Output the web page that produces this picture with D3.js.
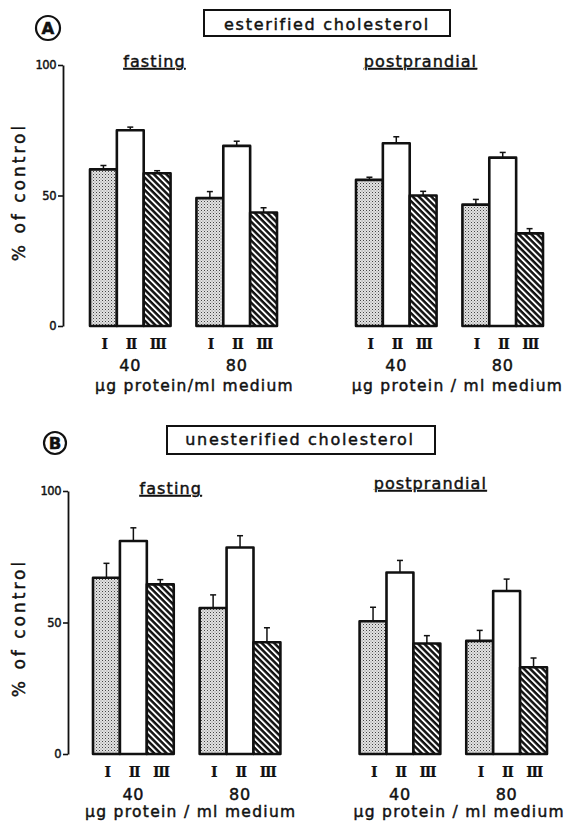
<!DOCTYPE html>
<html>
<head>
<meta charset="utf-8">
<script src="https://cdn.jsdelivr.net/npm/d3@7/dist/d3.min.js"></script>
<style>
  html, body { margin: 0; padding: 0; background: #fff; }
  svg { display: block; }
  text { font-family: "DejaVu Sans", sans-serif; fill: #111; stroke: #111; stroke-width: 0.45px; }
</style>
</head>
<body>
<script>
// Cell types, concentrations and conditions
const types = ["I", "II", "III"];
const concentrations = ["40", "80"];
const conditions = ["fasting", "postprandial"];
const yTicks = [0, 50, 100];

// Esterified cholesterol, % of control: [condition][concentration][type]
const esterifiedMean = [
  [[60, 75, 58.5], [49, 69, 43.5]],
  [[56, 70, 50], [46.5, 64.5, 35.5]]
];
const esterifiedErr = [
  [[1.5, 1.2, 1.0], [2.5, 1.8, 1.8]],
  [[1.0, 2.5, 1.6], [2.0, 2.0, 1.8]]
];

// Unesterified cholesterol, % of control
const unesterifiedMean = [
  [[67, 81, 64.5], [55.5, 78.5, 42.5]],
  [[50.5, 69, 42], [43, 62, 33]]
];
const unesterifiedErr = [
  [[5.5, 5.0, 1.8], [5.0, 4.5, 5.5]],
  [[5.3, 4.6, 3.0], [4.0, 4.5, 3.5]]
];

const unitLabels = [
  ["µg protein/ml medium", "µg protein / ml medium"],
  ["µg protein / ml medium", "µg protein / ml medium"]
];

const W = 571, H = 823;
const svg = d3.select("body").append("svg").attr("width", W).attr("height", H);
const defs = svg.append("defs");

// stippled fill for type I
const stip = defs.append("pattern").attr("id", "stipple")
  .attr("patternUnits", "userSpaceOnUse").attr("width", 3).attr("height", 3);
stip.append("rect").attr("width", 3).attr("height", 3).attr("fill", "#e2e2e2");
stip.append("rect").attr("x", 0).attr("y", 0).attr("width", 1).attr("height", 1).attr("fill", "#444");
stip.append("rect").attr("x", 1.5).attr("y", 1.5).attr("width", 1).attr("height", 1).attr("fill", "#888");

// dark diagonal hatch for type III
const hatch = defs.append("pattern").attr("id", "hatch")
  .attr("patternUnits", "userSpaceOnUse").attr("width", 4.4).attr("height", 10)
  .attr("patternTransform", "rotate(-45)");
hatch.append("rect").attr("width", 4.4).attr("height", 10).attr("fill", "#111");
hatch.append("rect").attr("x", 0).attr("width", 1.9).attr("height", 10).attr("fill", "#fff");

const fills = ["url(#stipple)", "#fff", "url(#hatch)"];

const panels = [
  {
    letter: "A", title: "esterified cholesterol",
    mean: esterifiedMean, err: esterifiedErr,
    axisX: 63, y0: 326, y100: 65, xRange: [90, 543],
    circle: [48, 28, 12], box: [204, 10, 246, 26], titleXY: [327, 30],
    condY: [67, 67], condDx: [-29, -29],
    numY: 349, concY: 371, unitY: 391, unitDx: [11, 8],
    yLabel: [19, 192]
  },
  {
    letter: "B", title: "unesterified cholesterol",
    mean: unesterifiedMean, err: unesterifiedErr,
    axisX: 68, y0: 754, y100: 491, xRange: [93, 547],
    circle: [55, 443, 11], box: [167, 426, 268, 28], titleXY: [300, 445],
    condY: [494, 489], condDx: [-16, -23],
    numY: 777, concY: 800, unitY: 817, unitDx: [4, 6],
    yLabel: [19, 628]
  }
];

panels.forEach((p, pi) => {
  const g = svg.append("g");
  const y = d3.scaleLinear().domain([0, 100]).range([p.y0, p.y100]);

  const xCond = d3.scaleBand().domain(conditions).range(p.xRange).paddingInner(0.297);
  const xConc = d3.scaleBand().domain(concentrations).range([0, xCond.bandwidth()]).paddingInner(0.243);
  const xType = d3.scaleBand().domain(types).range([0, xConc.bandwidth()]);

  // circled panel letter
  g.append("circle").attr("cx", p.circle[0]).attr("cy", p.circle[1]).attr("r", p.circle[2])
    .attr("fill", "none").attr("stroke", "#111").attr("stroke-width", 2.2);
  g.append("text").attr("x", p.circle[0]).attr("y", p.circle[1] + 6)
    .attr("text-anchor", "middle").attr("font-size", 16.5).attr("font-weight", "bold")
    .text(p.letter);

  // boxed title
  g.append("rect").attr("x", p.box[0]).attr("y", p.box[1]).attr("width", p.box[2]).attr("height", p.box[3])
    .attr("fill", "none").attr("stroke", "#111").attr("stroke-width", 2);
  g.append("text").attr("x", p.titleXY[0]).attr("y", p.titleXY[1])
    .attr("text-anchor", "middle").attr("font-size", 16).attr("letter-spacing", 1.7)
    .text(p.title);

  // y axis
  const axis = d3.axisLeft(y).tickValues(yTicks).tickSize(5).tickSizeOuter(0).tickPadding(2);
  const ag = g.append("g").attr("transform", `translate(${p.axisX},0)`).call(axis);
  ag.select(".domain").attr("stroke", "#111").attr("stroke-width", 1.8);
  ag.selectAll(".tick line").attr("stroke", "#111").attr("stroke-width", 1.6);
  ag.selectAll(".tick text").attr("font-size", 11.5)
    .attr("fill", "#111").attr("letter-spacing", -0.5);

  g.append("text")
    .attr("transform", `translate(${p.yLabel[0] + 6},${p.yLabel[1]}) rotate(-90)`)
    .attr("text-anchor", "middle").attr("font-size", 17).attr("letter-spacing", 3)
    .text("% of control");

  conditions.forEach((cond, ci) => {
    const blockCenter = xCond(cond) + xCond.bandwidth() / 2;

    g.append("text").attr("x", blockCenter + p.condDx[ci]).attr("y", p.condY[ci])
      .attr("text-anchor", "middle").attr("font-size", 16).attr("letter-spacing", 1.1)
      .attr("text-decoration", "underline")
      .text(cond);

    g.append("text").attr("x", blockCenter + p.unitDx[ci]).attr("y", p.unitY)
      .attr("text-anchor", "middle").attr("font-size", 15.5).attr("letter-spacing", 1.3)
      .text(unitLabels[pi][ci]);

    concentrations.forEach((conc, ki) => {
      const gx = xCond(cond) + xConc(conc);
      g.append("text").attr("x", gx + xConc.bandwidth() / 2).attr("y", p.concY)
        .attr("text-anchor", "middle").attr("font-size", 16).attr("letter-spacing", 0.8)
        .text(conc);

      types.forEach((t, ti) => {
        const v = p.mean[ci][ki][ti];
        const e = p.err[ci][ki][ti];
        const bx = gx + xType(t);
        const bw = xType.bandwidth();

        g.append("rect").attr("x", bx).attr("y", y(v))
          .attr("width", bw).attr("height", y(0) - y(v))
          .attr("fill", fills[ti]).attr("stroke", "#111").attr("stroke-width", 2.6)
          .attr("stroke-linejoin", "round");

        // error bar (upper whisker)
        const ex = bx + bw / 2;
        g.append("line").attr("x1", ex).attr("x2", ex).attr("y1", y(v)).attr("y2", y(v + e))
          .attr("stroke", "#111").attr("stroke-width", 1.5);
        g.append("line").attr("x1", ex - 3).attr("x2", ex + 3).attr("y1", y(v + e)).attr("y2", y(v + e))
          .attr("stroke", "#111").attr("stroke-width", 1.5);

        // roman numeral type label, serifs run together into bars
        g.append("text").attr("x", ex + 0.6).attr("y", p.numY)
          .attr("text-anchor", "middle").attr("font-size", 14)
          .style("font-family", "'DejaVu Serif', serif").style("font-weight", "bold")
          .style("letter-spacing", "-1.3px").style("stroke-width", "0.2px")
          .text(t);
      });
    });
  });
});
</script>
</body>
</html>
